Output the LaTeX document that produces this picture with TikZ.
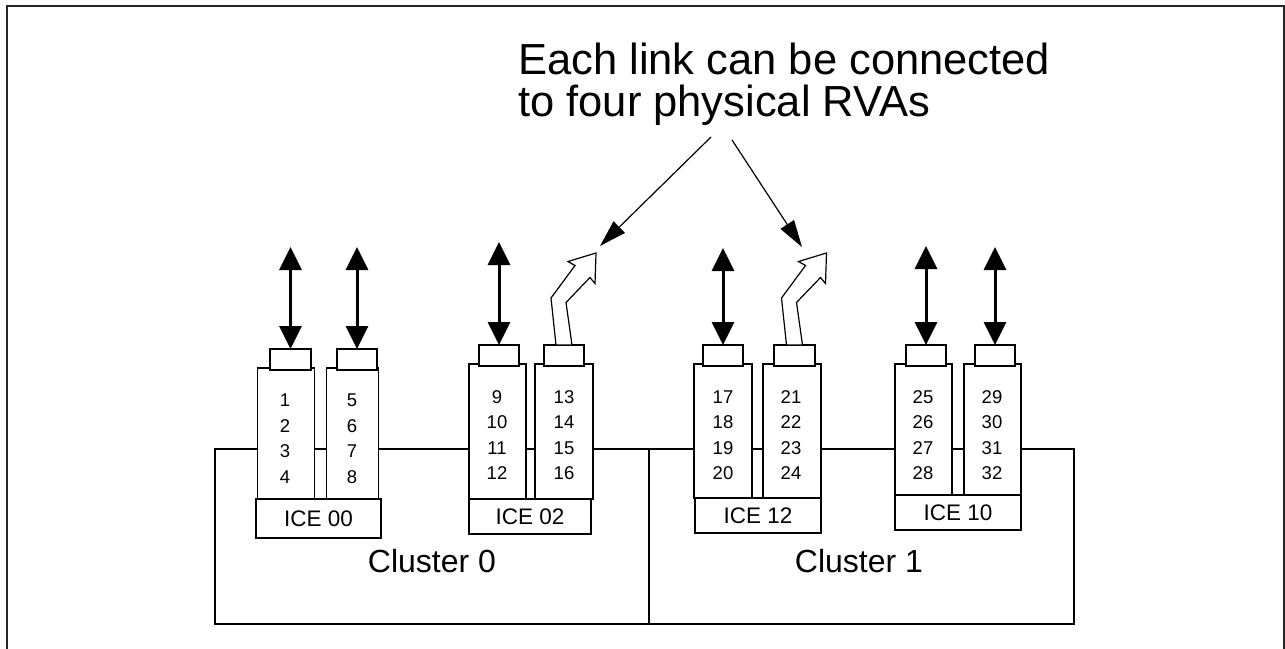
\documentclass[tikz,border=0pt]{standalone}
\usepackage{fontspec}
\setmainfont{Liberation Sans}
\usetikzlibrary{arrows.meta}
\begin{document}
\begin{tikzpicture}[x=1pt,y=-1pt,
  box/.style={draw, fill=white, line width=1.2pt, inner sep=0pt, outer sep=0pt},
  frame/.style={draw, line width=1.2pt, inner sep=0pt, outer sep=0pt},
  nums/.style={align=center, inner sep=0pt, font=\fontsize{18.5}{25.5}\selectfont},
  icelabel/.style={font=\fontsize{22.5}{27}\selectfont},
  cluslabel/.style={inner sep=0pt, font=\fontsize{32}{38}\selectfont},
  titlestyle/.style={anchor=north west, align=left, inner sep=0pt, font=\fontsize{43.5}{42}\selectfont},
  link/.style={line width=3pt, {Triangle[length=23pt,width=22pt]}-{Triangle[length=23pt,width=22pt]}},
  pointer/.style={line width=1.2pt, -{Triangle[length=27pt,width=16pt]}},
  hollow/.style={draw, fill=white, line width=1.2pt, line join=miter}]
\useasboundingbox (0,0) rectangle (1285,648);
% outer frame
\draw[line width=2pt, black!85] (6.5,660) -- (6.5,5.5) -- (1283.5,5.5) -- (1283.5,660);

% clusters
\node[frame, minimum width=434, minimum height=175] (cl0) at (432,536.5) {};
\node[frame, minimum width=425, minimum height=175] (cl1) at (861.5,536.5) {};
\node[cluslabel] (cl0lab) at (432,561) {Cluster 0};
\node[cluslabel] (cl1lab) at (859,561) {Cluster 1};

% columns
\node[box, minimum width=57, minimum height=131] (col1) at (286,433.5) {};
\node[box, minimum width=52, minimum height=131] (col2) at (352.5,433.5) {};
\node[box, minimum width=57, minimum height=135] (col3) at (497.5,431.5) {};
\node[box, minimum width=58, minimum height=135] (col4) at (564,431.5) {};
\node[box, minimum width=58, minimum height=134] (col5) at (723,431) {};
\node[box, minimum width=58, minimum height=134] (col6) at (792,431) {};
\node[box, minimum width=57, minimum height=131] (col7) at (923.5,429.5) {};
\node[box, minimum width=57, minimum height=131] (col8) at (992.5,429.5) {};

% numbers
\node[nums] (n1) at (285,438.5) {1\\2\\3\\4};
\node[nums] (n2) at (352,438.5) {5\\6\\7\\8};
\node[nums] (n3) at (497,435) {9\\10\\11\\12};
\node[nums] (n4) at (564,435) {13\\14\\15\\16};
\node[nums] (n5) at (723,435) {17\\18\\19\\20};
\node[nums] (n6) at (791,435) {21\\22\\23\\24};
\node[nums] (n7) at (923,435) {25\\26\\27\\28};
\node[nums] (n8) at (992,435) {29\\30\\31\\32};

% link connectors
\node[box, minimum width=41, minimum height=21] (conn1) at (290.5,359.5) {};
\node[box, minimum width=40, minimum height=21] (conn2) at (357,359.5) {};
\node[box, minimum width=40, minimum height=21] (conn3) at (499,355.5) {};
\node[box, minimum width=40, minimum height=21] (conn4) at (564,355.5) {};
\node[box, minimum width=40, minimum height=21] (conn5) at (723,355.5) {};
\node[box, minimum width=41, minimum height=21] (conn6) at (794.5,355.5) {};
\node[box, minimum width=40, minimum height=21] (conn7) at (926,355.5) {};
\node[box, minimum width=40, minimum height=21] (conn8) at (995,355.5) {};

% ICE boxes
\node[box, icelabel, minimum width=125, minimum height=39] (ice00) at (318.5,518.5) {ICE 00};
\node[box, icelabel, minimum width=122, minimum height=35] (ice02) at (530,516.5) {ICE 02};
\node[box, icelabel, minimum width=126, minimum height=35] (ice12) at (758,515.5) {ICE 12};
\node[box, icelabel, minimum width=126, minimum height=35] (ice10) at (958,512.5) {ICE 10};

% double-headed links
\coordinate (t1) at (290.5,247);
\coordinate (t2) at (357,247);
\coordinate (t3) at (499,242);
\coordinate (t5) at (723,248);
\coordinate (t7) at (926,246);
\coordinate (t8) at (995,247);
\draw[link] (t1) -- (conn1.north);
\draw[link] (t2) -- (conn2.north);
\draw[link] (t3) -- (conn3.north);
\draw[link] (t5) -- (conn5.north);
\draw[link] (t7) -- (conn7.north);
\draw[link] (t8) -- (conn8.north);

% hollow bent arrows
\begin{scope}[shift={(conn4.north)}]
\draw[hollow] (-8,0) -- (-13,-47) -- (11,-79.5) -- (4,-83.5) -- (32,-92) -- (31,-61.5) -- (26,-67.5) -- (2,-42.5) -- (8,0) -- cycle;
\end{scope}
\begin{scope}[shift={(conn6.north)}]
\draw[hollow] (-8,0) -- (-13,-47) -- (11,-79.5) -- (4,-83.5) -- (32,-92) -- (31,-61.5) -- (26,-67.5) -- (2,-42.5) -- (8,0) -- cycle;
\end{scope}

% title and pointers
\node[titlestyle] (title) at (518,42.5) {Each link can be connected\\to four physical RVAs};
\coordinate (p1) at (711,137);
\coordinate (p1e) at (600,246);
\coordinate (p2) at (732,140);
\coordinate (p2e) at (802,247);
\draw[pointer] (p1) -- (p1e);
\draw[pointer] (p2) -- (p2e);
\end{tikzpicture}
\end{document}
